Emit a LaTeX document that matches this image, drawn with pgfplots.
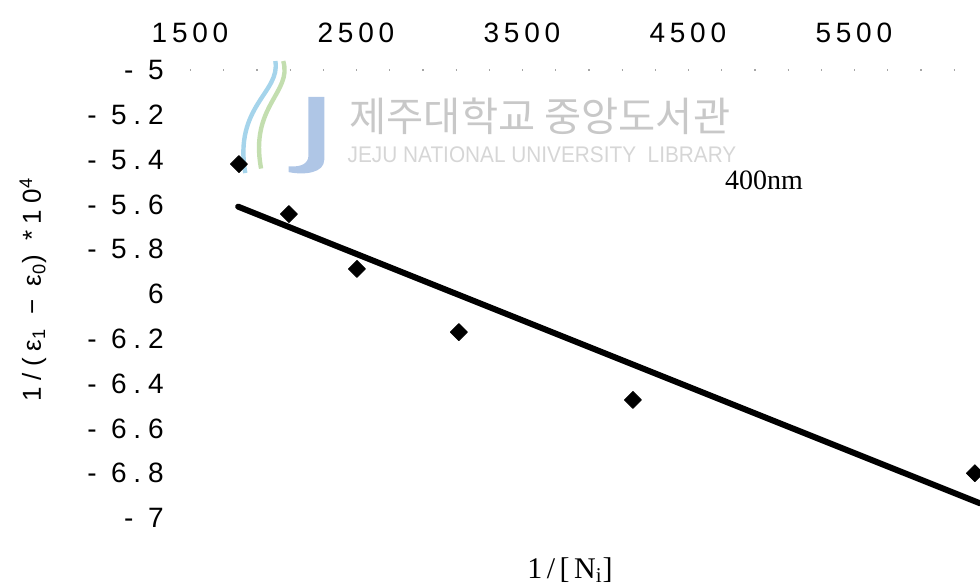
\documentclass[border=0pt]{standalone}
\usepackage{pgfplots}
\pgfplotsset{compat=1.18}
\usepackage{fontspec}
\setmainfont{Liberation Serif}
\newfontfamily\tickfont{Liberation Sans}[LetterSpace=17]
\newfontfamily\ytickfont{Liberation Sans}[LetterSpace=24]
\newfontfamily\labfont{Liberation Sans}[LetterSpace=25]
\newfontfamily\kr{Noto Sans CJK KR}
\newfontfamily\wmfont{Liberation Sans}
\newfontfamily\xlabfont{Liberation Serif}[LetterSpace=15]
\definecolor{wm}{RGB}{200,200,200}
\definecolor{wmlight}{RGB}{214,214,214}
\definecolor{logoblue}{RGB}{175,198,230}
\definecolor{logocyan}{RGB}{165,212,235}
\definecolor{logogreen}{RGB}{195,222,175}
\begin{document}
\begin{tikzpicture}
\begin{axis}[name=ax, scale only axis, width=395pt, height=224pt,
  xmin=1500, xmax=6260, ymin=-7, ymax=-5,
  axis x line*=top, axis y line*=left,
  x axis line style={draw=gray!70, line width=0.6pt, dash pattern=on 0.6pt off 16pt},
  y axis line style={draw=none},
  tick style={draw=none},
  xtick={1500,2500,3500,4500,5500},
  xticklabels={1500,2500,3500,4500,5500},
  xticklabel style={font=\fontsize{14}{14}\tickfont, anchor=base, inner sep=0pt, yshift=14pt},
  ytick={-7,-6.8,-6.6,-6.4,-6.2,-6,-5.8,-5.6,-5.4,-5.2,-5},
  yticklabels={- 7,- 6.8,- 6.6,- 6.4,- 6.2,6,- 5.8,- 5.6,- 5.4,- 5.2,- 5},
  yticklabel style={font=\fontsize{14}{14}\ytickfont, anchor=east, inner sep=0pt, xshift=-13pt},
  clip=false]
% watermark
\fill[logoblue] (rel axis cs:0.150,0.94) -- (rel axis cs:0.170,0.94) -- (rel axis cs:0.170,0.80)
  .. controls (rel axis cs:0.170,0.77) and (rel axis cs:0.145,0.765) .. (rel axis cs:0.125,0.772)
  -- (rel axis cs:0.125,0.785) .. controls (rel axis cs:0.140,0.783) and (rel axis cs:0.150,0.79) .. (rel axis cs:0.150,0.81) -- cycle;
\draw[logocyan, line width=2.2pt] (rel axis cs:0.070,0.77) .. controls (rel axis cs:0.055,0.92) and (rel axis cs:0.115,0.95) .. (rel axis cs:0.108,1.02);
\draw[logogreen, line width=2.2pt] (rel axis cs:0.090,0.78) .. controls (rel axis cs:0.075,0.92) and (rel axis cs:0.130,0.95) .. (rel axis cs:0.118,1.02);
\node[text=wm, font=\fontsize{20.2}{20.2}\kr] at (rel axis cs:0.443,0.897) {제주대학교 중앙도서관};
\node[text=wmlight, font=\fontsize{11.3}{11.3}\wmfont, xscale=0.92] at (rel axis cs:0.4456,0.810) {JEJU NATIONAL UNIVERSITY\ \ LIBRARY};
% data
\addplot[only marks, mark=square*, mark size=3pt, mark options={rotate=45, line join=round, black}] coordinates {
(1795,-5.42) (2096,-5.643) (2506,-5.888) (3120,-6.17) (4169,-6.473) (6229,-6.80)};
\addplot[no marks, black, line width=3pt, line cap=round] coordinates {(1790,-5.61) (6262,-6.935)};
% labels
\node[font=\fontsize{14}{14}\selectfont] at (rel axis cs:0.7266,0.7545) {400nm};
\node[font=\fontsize{15}{15}\xlabfont] at (rel axis cs:0.481,-0.116) {1/[N\textsubscript{i}]};
\node[rotate=90, font=\fontsize{13}{13}\labfont] at (rel axis cs:-0.1987,0.51) {1/(ε\textsubscript{1} − ε\textsubscript{0}) *10\textsuperscript{4}};
\end{axis}
\pgfresetboundingbox
\path ([xshift=-95pt,yshift=35pt]ax.north west) rectangle ([yshift=-33.5pt]ax.south east);
\end{tikzpicture}
\end{document}
